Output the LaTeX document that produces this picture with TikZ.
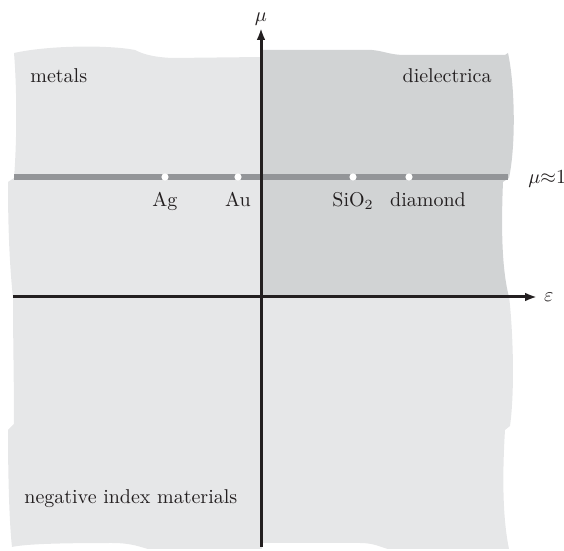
\documentclass[tikz,border=0pt]{standalone}
\usetikzlibrary{arrows.meta}
\definecolor{lightfill}{HTML}{E6E7E8}
\definecolor{darkfill}{HTML}{D1D3D4}
\definecolor{lineGray}{HTML}{939598}
\definecolor{axisBlack}{HTML}{231F20}

\begin{document}
\begin{tikzpicture}[x=0.5pt,y=-0.5pt,>={Latex[length=6pt,width=4.4pt]},
  font=\normalsize,text=axisBlack,
  axis/.style={draw=axisBlack,line width=1.5pt,->},
  muline/.style={draw=lineGray,line width=3pt},
  matdot/.style={circle,fill=white,inner sep=0pt,minimum size=3.6pt},
  lbl/.style={anchor=base,inner sep=0pt}]
  \useasboundingbox (0,0) rectangle (564,551);
  % --- torn paper quadrants ---
  \fill[lightfill] (14,53) .. controls (50,45) and (110,45) .. (135,50)
    .. controls (143,54) and (152,57) .. (172,58) -- (262,57) -- (262,298)
    -- (13,298) .. controls (9,260) and (8,220) .. (8,182) -- (14,178)
    .. controls (17,140) and (17,90) .. (14,53) -- cycle;
  \fill[lightfill] (13,296) -- (262,296) -- (262,549) -- (148,549)
    .. controls (140,547) and (132,543) .. (112,543)
    .. controls (60,543) and (25,544) .. (12,547)
    .. controls (9,520) and (8,470) .. (8,430) -- (14,424)
    .. controls (14,380) and (13,340) .. (13,296) -- cycle;
  \fill[lightfill] (261,296) -- (509,296) .. controls (513,330) and (515,390) .. (510,426)
    -- (505,430) .. controls (502,480) and (503,520) .. (509,549) -- (388,549)
    .. controls (380,547) and (374,543) .. (360,543) -- (261,543) -- cycle;
  \fill[darkfill] (261,50) -- (372,50) .. controls (384,51) and (390,55) .. (405,55)
    -- (505,55) -- (508,53) .. controls (515,85) and (516,145) .. (509,178)
    -- (503,182) .. controls (501,230) and (502,270) .. (509,297)
    -- (261,297) -- cycle;
  % --- line mu = 1 with materials ---
  \coordinate (mu0) at (14,177);
  \coordinate (mu1) at (508,177);
  \draw[muline] (mu0) -- (mu1);
  \node[matdot] (ag) at (165,177) {};
  \node[matdot] (au) at (238,177) {};
  \node[matdot] (sio) at (353,177) {};
  \node[matdot] (dia) at (409,177) {};
  \node[lbl] (tag) at (165,207) {Ag};
  \node[lbl] (tau) at (238,207) {Au};
  \node[lbl] (tsio) at (353,207) {SiO$_2$};
  \node[lbl] (tdia) at (428,207) {diamond};
  \node[anchor=west,inner sep=0pt] (tmu1) at (528,179) {$\mu{\approx}1$};
  % --- coordinate axes ---
  \coordinate (e0) at (13,297);
  \coordinate (e1) at (537,297);
  \coordinate (m0) at (261,547);
  \coordinate (m1) at (261,28);
  \draw[axis] (e0) -- (e1);
  \draw[axis] (m0) -- (m1);
  \node[right] (teps) at (e1) {$\varepsilon$};
  \node[above,inner sep=1pt] (tmu) at (m1) {$\mu$};
  % --- region labels ---
  \node[lbl,anchor=base west] (tmet) at (30,83) {metals};
  \node[lbl,anchor=base east] (tdiel) at (492,83) {dielectrica};
  \node[lbl,anchor=base west] (tneg) at (24,504) {negative index materials};
\end{tikzpicture}
\end{document}
